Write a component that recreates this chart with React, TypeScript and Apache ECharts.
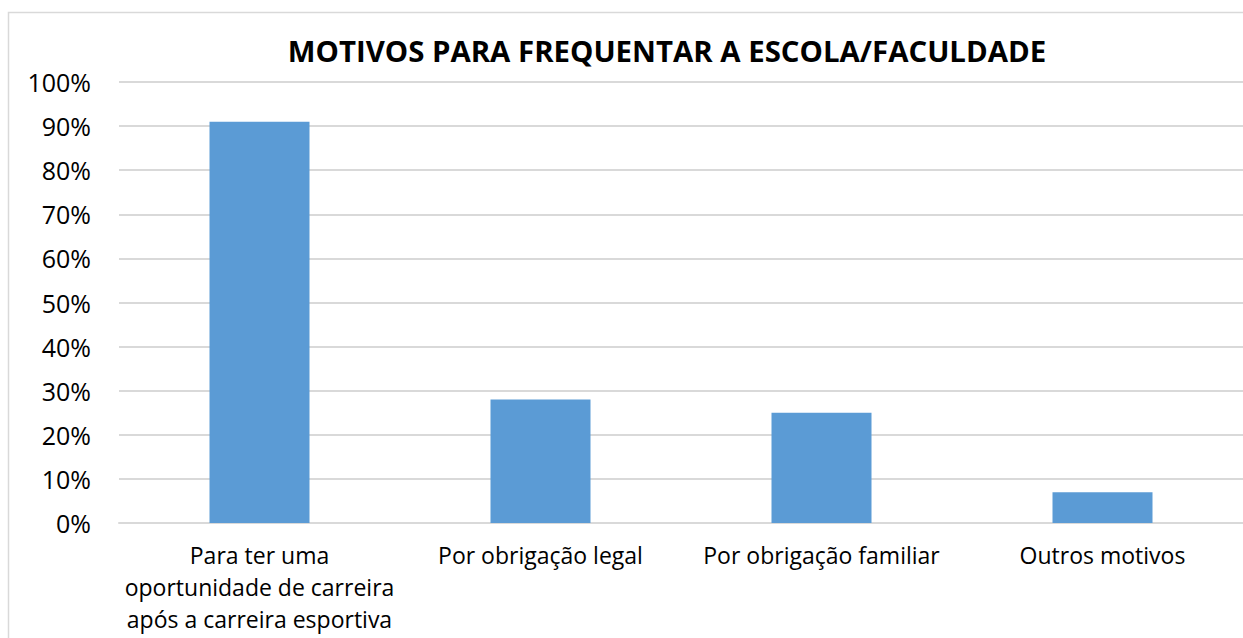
import React, { useEffect, useRef } from "react";
import * as echarts from "echarts";

const categories = [
  "Para ter uma\noportunidade de carreira\napós a carreira esportiva",
  "Por obrigação legal",
  "Por obrigação familiar",
  "Outros motivos",
];
const values = [91, 28, 25, 7];
const titleText = "MOTIVOS PARA FREQUENTAR A ESCOLA/FACULDADE";

const FONT = "'Open Sans', sans-serif";

export default function App() {
  const ref = useRef<HTMLDivElement>(null);
  useEffect(() => {
    if (!ref.current) return;
    const chart = echarts.init(ref.current, null, { renderer: "svg" });
    chart.setOption({
      animation: false,
      backgroundColor: "#ffffff",
      title: {
        text: titleText,
        left: 662,
        textAlign: "center",
        top: 31,
        textStyle: { fontFamily: FONT, fontSize: 29.4, fontWeight: "bold", color: "#000" },
      },
      graphic: [
        {
          type: "rect",
          shape: { x: 8.5, y: 12.5, width: 1300, height: 700 },
          style: { fill: "none", stroke: "#d9d9d9", lineWidth: 1.5 },
          silent: true,
        },
      ],
      grid: { left: 119, right: 0, top: 82, bottom: 115 },
      xAxis: {
        type: "category",
        data: categories,
        axisLine: { show: true, lineStyle: { color: "#d9d9d9", width: 2 } },
        axisTick: { show: false },
        axisLabel: {
          interval: 0,
          fontFamily: FONT,
          fontSize: 23,
          color: "#000",
          lineHeight: 32,
          margin: 16,
        },
      },
      yAxis: {
        type: "value",
        min: 0,
        max: 100,
        interval: 10,
        axisLine: { show: false },
        axisTick: { show: false },
        splitLine: { lineStyle: { color: "#d9d9d9", width: 2 } },
        axisLabel: {
          formatter: "{value}%",
          fontFamily: FONT,
          fontSize: 25,
          color: "#000",
          margin: 28,
        },
      },
      series: [
        {
          type: "bar",
          data: values,
          barWidth: 100,
          itemStyle: { color: "#5b9bd5" },
        },
      ],
    });
    return () => chart.dispose();
  }, []);
  return (
    <div
      ref={ref}
      style={{ position: "absolute", left: 0, top: 0, width: 1243, height: 638 }}
    />
  );
}
